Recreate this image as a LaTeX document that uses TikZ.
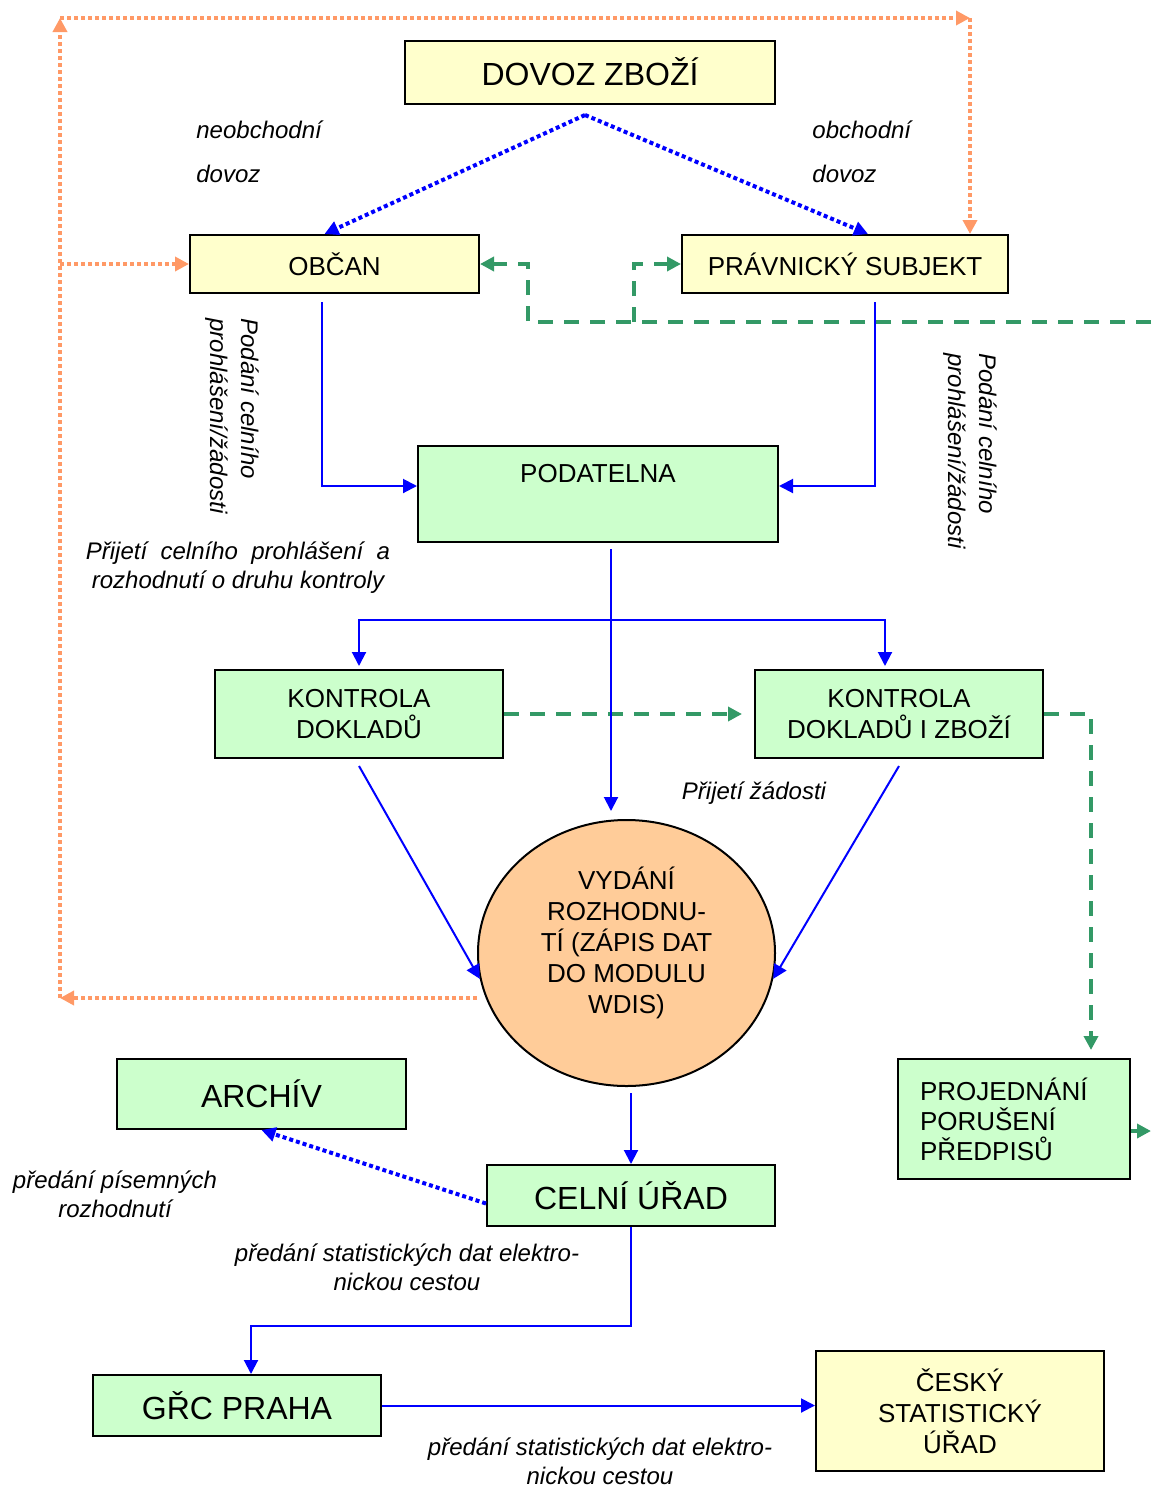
\documentclass[tikz,border=0pt]{standalone}
\usepackage{fontspec}
\setmainfont{Liberation Sans}
\usetikzlibrary{arrows.meta,positioning,calc,shapes.geometric}
\definecolor{boxyellow}{HTML}{FFFFCC}
\definecolor{boxgreen}{HTML}{CCFFCC}
\definecolor{boxpeach}{HTML}{FFCC99}
\definecolor{flowblue}{HTML}{0000FF}
\definecolor{backorange}{HTML}{FF9966}
\definecolor{casegreen}{HTML}{339966}
\tikzset{
    box/.style={draw=black, line width=1pt, inner sep=0pt, align=center, font=\fontsize{13}{15.5}\selectfont},
    yellowbox/.style={box, fill=boxyellow},
    greenbox/.style={box, fill=boxgreen},
    bigtext/.style={font=\fontsize{16}{19}\selectfont},
    note/.style={font=\itshape\fontsize{12}{14.5}\selectfont, align=center},
    widenote/.style={font=\itshape\fontsize{12}{22}\selectfont, align=left, anchor=west, inner sep=0pt},
    flow/.style={draw=flowblue, line width=1pt, ->},
    dotblue/.style={draw=flowblue, line width=2pt, dash pattern=on 2pt off 1.5pt, ->},
    dotorange/.style={draw=backorange, line width=2pt, dash pattern=on 2pt off 1.5pt, ->},
    greendash/.style={draw=casegreen, line width=2pt, dash pattern=on 7.5pt off 5.5pt, ->}
}

\begin{document}
\begin{tikzpicture}[x=0.5pt, y=-0.5pt, >={Triangle[length=7pt,width=7pt]}]
    \useasboundingbox (0,0) rectangle (1151,1488);

    % Boxes
    \node[yellowbox, bigtext, minimum width=185pt, minimum height=31.5pt] (dovoz) at (590,72) {DOVOZ ZBOŽÍ};
    \node[yellowbox, minimum width=144.5pt, minimum height=29pt] (obcan) at (334.5,264) {OBČAN};
    \node[yellowbox, minimum width=163pt, minimum height=29pt] (pravnicky) at (845,264) {PRÁVNICKÝ SUBJEKT};
    \node[greenbox, minimum width=180pt, minimum height=48pt, text height=10pt, text depth=21.7pt] (podatelna) at (598,494) {PODATELNA};
    \node[greenbox, minimum width=144pt, minimum height=44pt] (kontrola1) at (359,714) {KONTROLA\\DOKLADŮ};
    \node[greenbox, minimum width=144pt, minimum height=44pt] (kontrola2) at (899,714) {KONTROLA\\DOKLADŮ I ZBOŽÍ};
    \node[box, ellipse, fill=boxpeach, minimum width=148.5pt, minimum height=133pt] (vydani) at (626.5,953) {};
    \node[box, draw=none] (vydanitext) at (626.5,943)
        {VYDÁNÍ\\ROZHODNU-\\TÍ (ZÁPIS DAT\\DO MODULU\\WDIS)};
    \node[greenbox, bigtext, minimum width=144.5pt, minimum height=35pt] (archiv) at (261.5,1094) {ARCHÍV};
    \node[greenbox, bigtext, minimum width=144pt, minimum height=30.5pt] (celni) at (631,1195.5) {CELNÍ ÚŘAD};
    \node[greenbox, minimum width=116pt, minimum height=60pt, text width=94pt, align=left,
        font=\fontsize{13}{15}\selectfont] (projednani) at (1014,1119) {PROJEDNÁNÍ\\PORUŠENÍ\\PŘEDPISŮ};
    \node[greenbox, bigtext, minimum width=144pt, minimum height=30.5pt] (grc) at (237,1405.5) {GŘC PRAHA};
    \node[yellowbox, minimum width=144pt, minimum height=60pt] (cesky) at (960,1411) {ČESKÝ\\STATISTICKÝ\\ÚŘAD};

    % Labels
    \node[widenote] (neobch) at (196,152) {neobchodní\\dovoz};
    \node[widenote] (obch) at (812,152) {obchodní\\dovoz};
    \node[note, rotate=-90, align=left, font=\itshape\fontsize{12}{15.5}\selectfont] (podaniL) at (232,416) {Podání celního\\prohlášení/žádosti};
    \node[note, rotate=-90, align=left, font=\itshape\fontsize{12}{15.5}\selectfont] (podaniR) at (970,451) {Podání celního\\prohlášení/žádosti};
    \node[note] (prijeti) at (238,568) {Přijetí\ \ celního\ \ prohlášení\ \ a\\rozhodnutí o druhu kontroly};
    \node[note] (zadost) at (754,793) {Přijetí žádosti};
    \node[note] (pisemne) at (115,1194) {předání písemných\\rozhodnutí};
    \node[note] (stat1) at (407,1267) {předání statistických dat elektro-\\nickou cestou};
    \node[note] (stat2) at (600,1461) {předání statistických dat elektro-\\nickou cestou};

    % Import split
    \coordinate (split) at (585,115);
    \draw[dotblue] (split) -- ($(obcan.north)+(-10,0)$);
    \draw[dotblue] (split) -- ($(pravnicky.north)+(23,0)$);

    % Return loop (orange)
    \coordinate (loopL) at (60,998);
    \coordinate (loopTL) at (60,18);
    \coordinate (loopTR) at (970,18);
    \draw[dotorange] (loopL -| vydani.west) -- (loopL);
    \draw[dotorange] (loopL) -- (loopTL);
    \draw[dotorange] (loopTL) -- (loopTR);
    \draw[dotorange] (loopTR) -- (loopTR |- pravnicky.north);
    \draw[dotorange] (loopL |- obcan.west) -- (obcan.west);

    % Green dashed
    \coordinate (caseR) at (1151,322);
    \draw[greendash] (caseR) -| ($(obcan.east)+(48,0)$) -- (obcan.east);
    \draw[greendash] ($(pravnicky.west)+(-47,58)$) -- ++(0,-58) -- (pravnicky.west);
    \draw[greendash, shorten >=6pt] (kontrola1.east) -- (kontrola2.west);
    \draw[greendash, shorten >=4pt] (kontrola2.east) -| ($(projednani.north east)+(-40,0)$);
    \coordinate (projR) at (1151,1131);
    \draw[greendash] (projednani.east |- projR) -- (projR);

    % Blue flow
    \draw[flow] ($(obcan.south)+(-13,8)$) |- ($(podatelna.west)+(0,-8)$);
    \draw[flow] ($(pravnicky.south)+(30,8)$) |- ($(podatelna.east)+(0,-8)$);
    \draw[flow, shorten >=4pt] ($(podatelna.south)+(13,6)$) coordinate (split2) -- (split2 |- vydani.north);
    \draw[flow, <->, shorten >=1.5pt, shorten <=1.5pt] ($(kontrola2.north)+(-14,0)$) -- ++(0,-49) -| (kontrola1.north);
    \draw[flow] ($(kontrola1.south)+(0,7)$) -- (vydani.190);
    \draw[flow] ($(kontrola2.south)+(0,7)$) -- (vydani.350);
    \draw[flow, shorten <=3pt] (celni.north |- vydani.south) -- (celni.north);
    \draw[dotblue] ($(celni.west)+(0,8)$) -- (archiv.south);
    \draw[flow] (celni.south) -- ++(0,99) -| ($(grc.north)+(14,0)$);
    \draw[flow] (grc.east) -- (grc.east -| cesky.west);
\end{tikzpicture}
\end{document}
